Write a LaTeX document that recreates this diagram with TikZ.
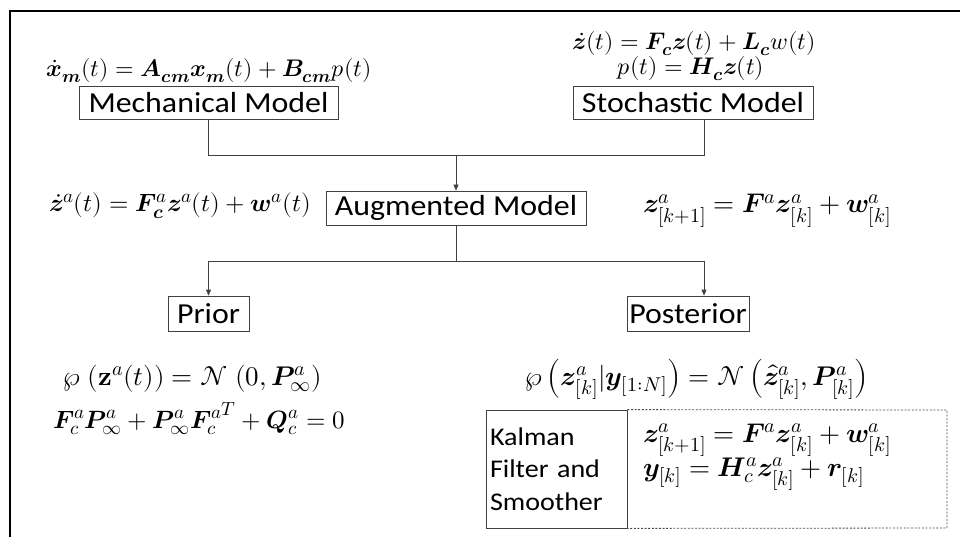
\documentclass[tikz,border=0pt]{standalone}
\usepackage{unicode-math}
\setmainfont{Carlito}[FakeStretch=1.1]
\setmathfont{latinmodern-math.otf}
\DeclareMathSizes{24}{24}{18}{14}
\DeclareMathSizes{25}{25}{19}{15}
\DeclareMathSizes{27}{27}{20}{15}
\usetikzlibrary{arrows.meta,calc}
\begin{document}
\begin{tikzpicture}[x=1pt,y=-1pt,
  box/.style={draw=black!75, line width=0.8pt, inner sep=0pt, font=\fontsize{29}{33}\selectfont},
  eq/.style={inner sep=0pt, font=\fontsize{25}{30}\selectfont},
  eqs/.style={eq, font=\fontsize{24}{28}\selectfont},
  eql/.style={eq, font=\fontsize{27}{32}\selectfont},
  conn/.style={draw=black!75, line width=0.8pt},
  arr/.style={conn, -{Triangle[length=6pt,width=5pt]}},
  dsh/.style={draw=black!70, line width=0.8pt, dash pattern=on 2pt off 1.6pt}]
\useasboundingbox (0,0) rectangle (960,537);
\draw[line width=2pt] (10,537) -- (10,11) -- (960,11);

% boxes
\node[box, minimum width=259pt, minimum height=33pt] (mech) at (208.5,102.5) {Mechanical Model};
\node[box, minimum width=240pt, minimum height=33pt] (stoch) at (693,102.5) {Stochastic Model};
\node[box, minimum width=260pt, minimum height=34pt] (aug) at (456,208) {Augmented Model};
\node[box, minimum width=81pt, minimum height=35pt] (prior) at (208.5,313.5) {Prior};
\node[box, minimum width=122pt, minimum height=35pt] (post) at (688,313.5) {Posterior};
\node[box, font=\fontsize{25.5}{32.5}\selectfont, minimum width=141pt, minimum height=118pt, text width=133pt, inner xsep=4pt, align=left] (kal) at (556.5,469) {Kalman\\Filter and\\Smoother};
\coordinate (dne) at (947,410);
\coordinate (dse) at (947,528);
\draw[dsh] (kal.north east) -- (dne) -- (dse) -- (kal.south east);

% equations
\node[eqs, anchor=base] (eqmech) at (209,77) {$\dot{\symbfit{x}}_{\symbfit{m}}(t) = \symbfit{A}_{\symbfit{cm}}\symbfit{x}_{\symbfit{m}}(t) + \symbfit{B}_{\symbfit{cm}}p(t)$};
\node[eqs, anchor=base] (eqst1) at (694,50) {$\dot{\symbfit{z}}(t) = \symbfit{F}_{\symbfit{c}}\symbfit{z}(t) + \symbfit{L}_{\symbfit{c}}w(t)$};
\node[eqs, anchor=base] (eqst2) at (691,75) {$p(t) = \symbfit{H}_{\symbfit{c}}\symbfit{z}(t)$};
\node[eq, anchor=base east] (eqaug) at (311,212) {$\dot{\symbfit{z}}^a(t) = \symbfit{F}_{\symbfit{c}}^a\symbfit{z}^a(t) + \symbfit{w}^a(t)$};
\node[eql, anchor=base west] (eqdisc) at (643,213) {$\symbfit{z}^a_{[k+1]} = \symbfit{F}^a\symbfit{z}^a_{[k]} + \symbfit{w}^a_{[k]}$};
\node[eql, anchor=base west] (eqprior) at (63,385) {$\wp\;(\symbf{z}^a(t)) = \mathcal{N}\;(0,\symbfit{P}^a_\infty)$};
\node[eq, anchor=base west] (eqric) at (53,428) {$\symbfit{F}^a_c\symbfit{P}^a_\infty + \symbfit{P}^a_\infty{\symbfit{F}^a_c}^T + \symbfit{Q}^a_c = 0$};
\node[eql, anchor=base west] (eqpost) at (525,385) {$\wp\left(\symbfit{z}^a_{[k]}\boldsymbol{|}\symbfit{y}_{[1:N]}\right) = \mathcal{N}\left(\hat{\symbfit{z}}^a_{[k]},\symbfit{P}^a_{[k]}\right)$};
\node[eql, anchor=base west] (kal1) at (643,442) {$\symbfit{z}^a_{[k+1]} = \symbfit{F}^a\symbfit{z}^a_{[k]} + \symbfit{w}^a_{[k]}$};
\node[eql, anchor=base west] (kal2) at (643,476) {$\symbfit{y}_{[k]} = \symbfit{H}^a_c\symbfit{z}^a_{[k]} + \symbfit{r}_{[k]}$};

% connectors
\coordinate (rx) at (704,0);
\coordinate (j1) at (456,155);
\coordinate (j2) at (456,261);
\draw[conn] (mech.south) -- (mech.south |- j1) -- (j1 -| rx) -- (stoch.south -| rx);
\draw[arr] (j1) -- (aug.north);
\draw[conn] (aug.south) -- (j2);
\draw[arr] (j2) -- (j2 -| prior.north) -- (prior.north);
\draw[arr] (j2) -- (j2 -| rx) -- (post.north -| rx);
\end{tikzpicture}
\end{document}
